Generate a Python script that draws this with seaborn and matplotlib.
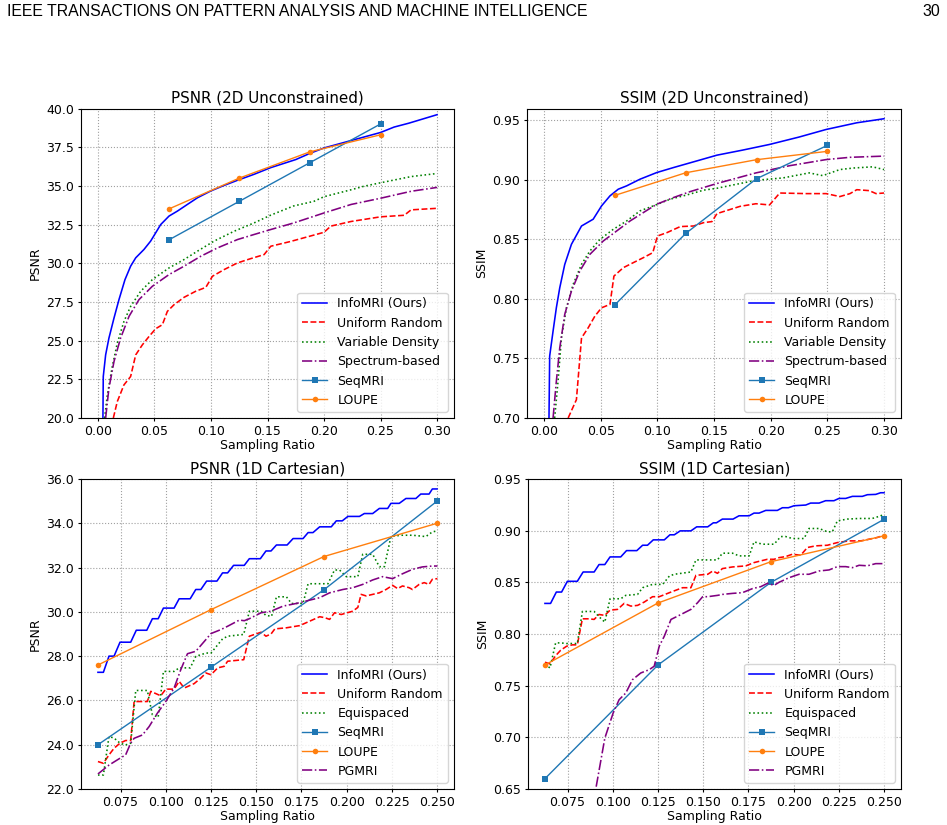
import matplotlib
matplotlib.use("Agg")
import matplotlib.pyplot as plt
from matplotlib.ticker import MultipleLocator, FormatStrFormatter
import seaborn as sns

# ---------------- DATA ----------------
# Learned baselines (shared sampling ratios)
ratios_learned = [0.0625, 0.125, 0.1875, 0.25]

# ---- PSNR (2D Unconstrained) ----
tl_info_x = [0.0044, 0.0047, 0.0068, 0.0097, 0.0142, 0.0186, 0.0239, 0.0289, 0.0334, 0.0407, 0.0466, 0.0511,
             0.0555, 0.0629, 0.0703, 0.0791, 0.088, 0.0998, 0.1116, 0.1234, 0.1382, 0.1529, 0.175, 0.1875,
             0.20, 0.225, 0.25, 0.262, 0.275, 0.30]
tl_info_y = [20.0, 22.68, 24.08, 25.16, 26.46, 27.65, 28.94, 29.81, 30.35, 30.89, 31.43, 31.97,
             32.5, 33.05, 33.37, 33.8, 34.23, 34.67, 35.03, 35.36, 35.75, 36.18, 36.7, 37.1,
             37.45, 37.95, 38.45, 38.8, 39.05, 39.6]
tl_unif_x = [0.0136, 0.0171, 0.023, 0.0289, 0.0334, 0.0393, 0.0452, 0.0511, 0.057, 0.0614, 0.0673, 0.0762,
             0.0865, 0.0954, 0.1013, 0.1116, 0.1234, 0.1352, 0.147, 0.1529, 0.170, 0.185, 0.20, 0.206,
             0.224, 0.25, 0.271, 0.277, 0.30]
tl_unif_y = [20.0, 21.06, 22.14, 22.68, 24.08, 24.73, 25.27, 25.77, 26.03, 26.89, 27.32, 27.8,
             28.19, 28.44, 29.16, 29.59, 30.02, 30.3, 30.56, 31.1, 31.4, 31.7, 32.0, 32.4,
             32.7, 33.0, 33.1, 33.45, 33.55]
tl_vd_x = [0.0059, 0.0083, 0.0127, 0.0171, 0.023, 0.0289, 0.0378, 0.0481, 0.0629, 0.0762, 0.088, 0.1027,
           0.1205, 0.1382, 0.1529, 0.173, 0.191, 0.20, 0.224, 0.235, 0.25, 0.277, 0.30]
tl_vd_y = [20.0, 21.49, 23.33, 24.84, 26.24, 27.21, 28.19, 28.94, 29.7, 30.24, 30.78, 31.43,
           32.07, 32.61, 33.11, 33.7, 34.0, 34.3, 34.75, 34.97, 35.2, 35.6, 35.8]
tl_spec_x = [0.0068, 0.0097, 0.0142, 0.02, 0.0275, 0.0363, 0.0481, 0.0629, 0.0762, 0.0909, 0.1057, 0.1234,
             0.1382, 0.1529, 0.173, 0.20, 0.224, 0.25, 0.277, 0.30]
tl_spec_y = [20.0, 21.92, 23.65, 25.16, 26.57, 27.65, 28.51, 29.27, 29.81, 30.45, 30.99, 31.53,
             31.86, 32.18, 32.6, 33.25, 33.8, 34.2, 34.65, 34.9]
tl_seq_y = [31.5, 34.0, 36.5, 39.0]
tl_loupe_y = [33.5, 35.5, 37.2, 38.3]

# ---- SSIM (2D Unconstrained) ----
tr_info_x = [0.0044, 0.005, 0.008, 0.0109, 0.0139, 0.0183, 0.0242, 0.0331, 0.0434, 0.0508, 0.0582, 0.0655,
             0.0729, 0.0847, 0.0995, 0.1143, 0.132, 0.1526, 0.175, 0.199, 0.225, 0.249, 0.276, 0.30]
tr_info_y = [0.70, 0.752, 0.773, 0.7926, 0.8094, 0.829, 0.8459, 0.8613, 0.867, 0.8782, 0.8866, 0.8922,
             0.895, 0.9006, 0.9062, 0.9104, 0.9152, 0.9208, 0.925, 0.9298, 0.936, 0.9424, 0.948, 0.9514]
tr_unif_x = [0.0213, 0.0286, 0.0331, 0.039, 0.0449, 0.0508, 0.0582, 0.0617, 0.07, 0.0788, 0.0877, 0.096,
             0.1001, 0.1084, 0.1202, 0.132, 0.1408, 0.1482, 0.1526, 0.173, 0.187, 0.199, 0.208, 0.2315,
             0.249, 0.261, 0.27, 0.276, 0.287, 0.293, 0.30]
tr_unif_y = [0.70, 0.7154, 0.7673, 0.7758, 0.7856, 0.7926, 0.7954, 0.8192, 0.8263, 0.8305, 0.8347, 0.8389,
             0.8529, 0.8557, 0.8608, 0.8613, 0.8641, 0.865, 0.8717, 0.8778, 0.880, 0.879, 0.889, 0.8885,
             0.8885, 0.886, 0.8885, 0.8918, 0.891, 0.8885, 0.889]
tr_vd_x = [0.0094, 0.0124, 0.0154, 0.0198, 0.0257, 0.0331, 0.0405, 0.0493, 0.0611, 0.0729, 0.0847, 0.0965,
           0.1113, 0.1261, 0.1408, 0.1526, 0.187, 0.211, 0.234, 0.246, 0.261, 0.273, 0.29, 0.30]
tr_vd_y = [0.70, 0.7309, 0.7673, 0.7926, 0.8122, 0.8291, 0.8403, 0.85, 0.8585, 0.8655, 0.874, 0.8782,
           0.8838, 0.8874, 0.8914, 0.893, 0.8997, 0.9017, 0.9059, 0.9036, 0.9087, 0.910, 0.911, 0.9087]
tr_spec_x = [0.008, 0.0109, 0.0139, 0.0183, 0.0242, 0.0316, 0.0405, 0.0523, 0.0641, 0.0759, 0.0877, 0.0995,
             0.1143, 0.129, 0.1408, 0.1526, 0.187, 0.217, 0.249, 0.27, 0.30]
tr_spec_y = [0.70, 0.7309, 0.7589, 0.787, 0.8066, 0.8235, 0.8375, 0.8487, 0.8571, 0.8655, 0.8726, 0.8796,
             0.8852, 0.8902, 0.8936, 0.897, 0.9059, 0.912, 0.9171, 0.919, 0.92]
tr_seq_y = [0.795, 0.855, 0.901, 0.929]
tr_loupe_y = [0.887, 0.906, 0.917, 0.924]

# ---- PSNR (1D Cartesian) ----
bl_info_x = [0.0625, 0.0655, 0.0686, 0.0714, 0.0747, 0.0806, 0.0837, 0.0895, 0.0926, 0.0958, 0.0987, 0.1046,
             0.1074, 0.1135, 0.1166, 0.1194, 0.1226, 0.1283, 0.1314, 0.1342, 0.1375, 0.1434, 0.1462, 0.1523,
             0.1554, 0.1582, 0.1612, 0.1671, 0.1704, 0.1759, 0.1787, 0.1814, 0.1851, 0.1915, 0.1943, 0.1976,
             0.2007, 0.2071, 0.2098, 0.2144, 0.2181, 0.2227, 0.2245, 0.2291, 0.2328, 0.2383, 0.2410, 0.2456,
             0.2474, 0.2500]
bl_info_y = [27.27, 27.27, 28.0, 28.0, 28.63, 28.63, 29.17, 29.17, 29.69, 29.69, 30.17, 30.17,
             30.59, 30.59, 31.01, 31.01, 31.39, 31.39, 31.76, 31.76, 32.1, 32.1, 32.4, 32.4,
             32.75, 32.75, 33.02, 33.02, 33.31, 33.31, 33.58, 33.58, 33.84, 33.84, 34.11, 34.11,
             34.31, 34.31, 34.44, 34.44, 34.67, 34.67, 34.9, 34.9, 35.12, 35.12, 35.32, 35.32,
             35.55, 35.55]
bl_unif_x = [0.0625, 0.0655, 0.0686, 0.0714, 0.0747, 0.0778, 0.0806, 0.0825, 0.0898, 0.0917, 0.0972, 0.1,
             0.1046, 0.1074, 0.1102, 0.1157, 0.1194, 0.1222, 0.125, 0.1287, 0.1323, 0.1342, 0.1431, 0.1462,
             0.1527, 0.1554, 0.1582, 0.1603, 0.1667, 0.1741, 0.1796, 0.1851, 0.1878, 0.1906, 0.1933, 0.197,
             0.2034, 0.2062, 0.208, 0.2108, 0.2181, 0.2218, 0.2254, 0.2282, 0.2309, 0.2346, 0.2364, 0.2401,
             0.2429, 0.2456, 0.2474, 0.2502]
bl_unif_y = [23.24, 23.16, 23.54, 23.84, 24.07, 24.19, 24.19, 25.95, 25.95, 26.41, 26.21, 26.51,
             26.51, 26.86, 26.56, 26.76, 27.01, 27.24, 27.16, 27.47, 27.54, 27.77, 27.84, 28.9,
             29.08, 28.9, 29.0, 29.23, 29.28, 29.38, 29.58, 29.78, 29.74, 29.66, 29.96, 29.88,
             30.03, 30.2, 30.79, 30.72, 30.86, 31.01, 31.2, 31.05, 31.17, 31.09, 31.01, 31.24,
             31.32, 31.24, 31.47, 31.5]
bl_equi_x = [0.0625, 0.0655, 0.0686, 0.0714, 0.0747, 0.0778, 0.0806, 0.0834, 0.0898, 0.0926, 0.0958, 0.0987,
             0.1046, 0.1074, 0.1135, 0.1166, 0.1222, 0.125, 0.1314, 0.1342, 0.1431, 0.1462, 0.1527, 0.1554,
             0.1585, 0.1612, 0.1667, 0.1695, 0.1759, 0.1787, 0.1897, 0.1933, 0.1961, 0.1998, 0.2062, 0.2089,
             0.2144, 0.2181, 0.2209, 0.2245, 0.2300, 0.2364, 0.2438, 0.2474, 0.2502]
bl_equi_y = [22.63, 22.63, 24.37, 24.3, 24.07, 23.99, 24.07, 26.45, 26.45, 25.35, 25.24, 27.31,
             27.31, 27.47, 27.47, 27.99, 28.14, 28.14, 28.78, 28.9, 28.98, 30.03, 30.03, 29.84,
             29.8, 30.68, 30.68, 30.38, 30.38, 31.27, 31.27, 31.89, 31.89, 31.59, 31.59, 32.6,
             32.6, 32.04, 32.04, 33.4, 33.46, 33.46, 33.4, 33.61, 33.66]
bl_pg_x = [0.0625, 0.0686, 0.0747, 0.0778, 0.0806, 0.0825, 0.0871, 0.0908, 0.0954, 0.1, 0.1046, 0.1083,
           0.112, 0.1166, 0.1222, 0.125, 0.1305, 0.1342, 0.1407, 0.1434, 0.1462, 0.1527, 0.1582, 0.1649,
           0.1722, 0.1796, 0.1851, 0.1906, 0.1979, 0.2034, 0.2089, 0.2144, 0.2199, 0.2254, 0.2309, 0.2364,
           0.2419, 0.2474, 0.2502]
bl_pg_y = [22.68, 23.08, 23.39, 23.54, 24.07, 24.29, 24.44, 24.82, 25.43, 25.95, 26.56, 27.39,
           28.11, 28.22, 28.75, 29.02, 29.2, 29.35, 29.63, 29.6, 29.69, 29.96, 30.03, 30.26,
           30.38, 30.53, 30.64, 30.86, 31.01, 31.09, 31.24, 31.44, 31.59, 31.5, 31.72, 31.92,
           32.03, 32.07, 32.07]
bl_seq_y = [24.0, 27.5, 31.0, 35.0]
bl_loupe_y = [27.6, 30.1, 32.5, 34.0]

# ---- SSIM (1D Cartesian) ----
br_info_x = [0.0625, 0.0656, 0.0688, 0.0717, 0.0749, 0.0804, 0.0836, 0.0897, 0.0924, 0.0956, 0.0985, 0.1044,
             0.1076, 0.1133, 0.1165, 0.1192, 0.1224, 0.1285, 0.1316, 0.1340, 0.1373, 0.1432, 0.1464, 0.1525,
             0.1556, 0.1573, 0.1606, 0.1665, 0.1698, 0.1754, 0.1781, 0.1809, 0.1846, 0.1910, 0.1938, 0.1971,
             0.2002, 0.2067, 0.2094, 0.2141, 0.2177, 0.2223, 0.2251, 0.2288, 0.2325, 0.2380, 0.2408, 0.2454,
             0.2481, 0.2500]
br_info_y = [0.8296, 0.8296, 0.8406, 0.8406, 0.851, 0.851, 0.860, 0.860, 0.8672, 0.8672, 0.8746, 0.8746,
             0.8807, 0.8807, 0.8859, 0.8859, 0.8911, 0.8911, 0.896, 0.896, 0.8998, 0.8998, 0.9037, 0.9037,
             0.9076, 0.9076, 0.9112, 0.9112, 0.9144, 0.9144, 0.917, 0.917, 0.9196, 0.9196, 0.9222, 0.9222,
             0.9241, 0.9248, 0.9267, 0.9267, 0.929, 0.929, 0.9312, 0.9312, 0.9332, 0.9332, 0.9348, 0.9351,
             0.9367, 0.9367]
br_unif_x = [0.0625, 0.0653, 0.0684, 0.0712, 0.0745, 0.0777, 0.0804, 0.0832, 0.0869, 0.0897, 0.0924, 0.0956,
             0.0985, 0.1026, 0.1063, 0.1100, 0.1137, 0.1174, 0.1220, 0.1257, 0.1322, 0.1386, 0.1432, 0.1460,
             0.1525, 0.1553, 0.1579, 0.1606, 0.1662, 0.1735, 0.1781, 0.1818, 0.1855, 0.1892, 0.1919, 0.1956,
             0.1993, 0.2039, 0.2076, 0.2122, 0.2187, 0.2242, 0.2306, 0.2371, 0.2417, 0.2463, 0.25]
br_unif_y = [0.7727, 0.771, 0.779, 0.7843, 0.7882, 0.7895, 0.7895, 0.8147, 0.8147, 0.8141, 0.8189, 0.818,
             0.8231, 0.8238, 0.8296, 0.827, 0.8277, 0.8309, 0.8361, 0.8361, 0.8406, 0.8448, 0.8448, 0.8568,
             0.8578, 0.861, 0.8587, 0.8633, 0.8649, 0.8659, 0.8691, 0.8707, 0.8723, 0.8723, 0.8739, 0.8749,
             0.8772, 0.8762, 0.8837, 0.8853, 0.8859, 0.8885, 0.8901, 0.8901, 0.8917, 0.8934, 0.8956]
br_equi_x = [0.0625, 0.0653, 0.0684, 0.0712, 0.0745, 0.0777, 0.0804, 0.0832, 0.0897, 0.0924, 0.0956, 0.0985,
             0.1044, 0.1072, 0.1137, 0.1165, 0.1220, 0.1276, 0.1313, 0.1340, 0.1432, 0.1460, 0.1553, 0.1579,
             0.1606, 0.1662, 0.1698, 0.1754, 0.1781, 0.1827, 0.1892, 0.1929, 0.1956, 0.1993, 0.2058, 0.2085,
             0.2141, 0.2187, 0.2214, 0.2242, 0.2297, 0.2362, 0.2435, 0.2472, 0.25]
br_equi_y = [0.7704, 0.7672, 0.7914, 0.7914, 0.7908, 0.7908, 0.7908, 0.8218, 0.8218, 0.8167, 0.8115, 0.8341,
             0.8341, 0.8374, 0.8383, 0.8448, 0.848, 0.848, 0.8561, 0.8578, 0.86, 0.8717, 0.8717, 0.8717,
             0.8782, 0.8782, 0.8756, 0.8756, 0.8892, 0.8869, 0.8869, 0.8943, 0.8943, 0.8924, 0.8924, 0.9021,
             0.9021, 0.8989, 0.8989, 0.9095, 0.9112, 0.9118, 0.9118, 0.9138, 0.9157]
br_pg_x = [0.0875, 0.0906, 0.0956, 0.1002, 0.1035, 0.1072, 0.1109, 0.1155, 0.1202, 0.1229, 0.1257, 0.1285,
           0.1322, 0.1359, 0.1396, 0.1432, 0.1469, 0.1497, 0.1525, 0.1580, 0.1606, 0.1662, 0.1717, 0.1772,
           0.1818, 0.1855, 0.1892, 0.1919, 0.1975, 0.2030, 0.2085, 0.2141, 0.2196, 0.2242, 0.2288, 0.2325,
           0.2362, 0.2408, 0.2454, 0.25]
br_pg_y = [0.62, 0.65, 0.6992, 0.7235, 0.7364, 0.7429, 0.7558, 0.7623, 0.7655, 0.7688, 0.7882, 0.7979,
           0.8141, 0.8173, 0.8206, 0.8238, 0.8303, 0.8361, 0.8361, 0.8374, 0.8383, 0.8393, 0.84, 0.8439,
           0.8458, 0.849, 0.8471, 0.85, 0.8545, 0.8578, 0.8578, 0.861, 0.862, 0.8652, 0.8652, 0.8642,
           0.8665, 0.866, 0.8681, 0.8681]
br_seq_y = [0.66, 0.77, 0.85, 0.911]
br_loupe_y = [0.77, 0.83, 0.87, 0.895]

# ---------------- PLOT ----------------
plt.rcParams['font.family'] = ['DejaVu Sans']
plt.rcParams['font.size'] = 9

fig = plt.figure(figsize=(9.47, 8.25), dpi=100)
fig.text(7 / 947, 1 - 12 / 825, "IEEE TRANSACTIONS ON PATTERN ANALYSIS AND MACHINE INTELLIGENCE",
         ha='left', va='center', fontsize=11.4, family=['Liberation Sans', 'DejaVu Sans'])
fig.text(940 / 947, 1 - 12 / 825, "30", ha='right', va='center', fontsize=11.4,
         family=['Liberation Sans', 'DejaVu Sans'])

W, H = 947.0, 825.0
def add_ax(l, r, t, b):
    return fig.add_axes([l / W, 1 - b / H, (r - l) / W, (b - t) / H])

ax_tl = add_ax(81, 454, 108.5, 418)
ax_tr = add_ax(527, 901, 108.5, 418)
ax_bl = add_ax(81, 454, 479, 789)
ax_br = add_ax(528, 901, 479, 789)

LW = 1.15
def main_line(ax, x, y, color, ls, label):
    sns.lineplot(x=x, y=y, ax=ax, color=color, linestyle=ls, linewidth=LW, label=label,
                 sort=False, estimator=None)

def learned_line(ax, y, color, marker, label):
    sns.lineplot(x=ratios_learned, y=y, ax=ax, color=color, marker=marker, markersize=4,
                 markeredgewidth=0, linewidth=1.0, label=label, sort=False, estimator=None)

# Top-left
main_line(ax_tl, tl_info_x, tl_info_y, 'blue', '-', 'InfoMRI (Ours)')
main_line(ax_tl, tl_unif_x, tl_unif_y, 'red', '--', 'Uniform Random')
main_line(ax_tl, tl_vd_x, tl_vd_y, 'green', ':', 'Variable Density')
main_line(ax_tl, tl_spec_x, tl_spec_y, 'purple', '-.', 'Spectrum-based')
learned_line(ax_tl, tl_seq_y, '#1f77b4', 's', 'SeqMRI')
learned_line(ax_tl, tl_loupe_y, '#ff7f0e', 'o', 'LOUPE')

# Top-right
main_line(ax_tr, tr_info_x, tr_info_y, 'blue', '-', 'InfoMRI (Ours)')
main_line(ax_tr, tr_unif_x, tr_unif_y, 'red', '--', 'Uniform Random')
main_line(ax_tr, tr_vd_x, tr_vd_y, 'green', ':', 'Variable Density')
main_line(ax_tr, tr_spec_x, tr_spec_y, 'purple', '-.', 'Spectrum-based')
learned_line(ax_tr, tr_seq_y, '#1f77b4', 's', 'SeqMRI')
learned_line(ax_tr, tr_loupe_y, '#ff7f0e', 'o', 'LOUPE')

# Bottom-left
main_line(ax_bl, bl_info_x, bl_info_y, 'blue', '-', 'InfoMRI (Ours)')
main_line(ax_bl, bl_unif_x, bl_unif_y, 'red', '--', 'Uniform Random')
main_line(ax_bl, bl_equi_x, bl_equi_y, 'green', ':', 'Equispaced')
learned_line(ax_bl, bl_seq_y, '#1f77b4', 's', 'SeqMRI')
learned_line(ax_bl, bl_loupe_y, '#ff7f0e', 'o', 'LOUPE')
main_line(ax_bl, bl_pg_x, bl_pg_y, 'purple', '-.', 'PGMRI')

# Bottom-right
main_line(ax_br, br_info_x, br_info_y, 'blue', '-', 'InfoMRI (Ours)')
main_line(ax_br, br_unif_x, br_unif_y, 'red', '--', 'Uniform Random')
main_line(ax_br, br_equi_x, br_equi_y, 'green', ':', 'Equispaced')
learned_line(ax_br, br_seq_y, '#1f77b4', 's', 'SeqMRI')
learned_line(ax_br, br_loupe_y, '#ff7f0e', 'o', 'LOUPE')
main_line(ax_br, br_pg_x, br_pg_y, 'purple', '-.', 'PGMRI')

# Axes styling
for ax, title, ylab in [(ax_tl, 'PSNR (2D Unconstrained)', 'PSNR'),
                        (ax_tr, 'SSIM (2D Unconstrained)', 'SSIM'),
                        (ax_bl, 'PSNR (1D Cartesian)', 'PSNR'),
                        (ax_br, 'SSIM (1D Cartesian)', 'SSIM')]:
    ax.set_title(title, fontsize=10.9, pad=4)
    ax.set_xlabel('Sampling Ratio', fontsize=9, labelpad=1)
    ax.set_ylabel(ylab, fontsize=9, labelpad=3)
    ax.grid(True, linestyle=':', color='#a0a0a0', linewidth=0.8)
    ax.tick_params(labelsize=9, length=2.5, pad=2.5)
    ax.legend(loc='lower right', fontsize=9)

ax_tl.set_xlim(-0.015, 0.315)
ax_tl.set_ylim(20, 40)
ax_tl.xaxis.set_major_locator(MultipleLocator(0.05))
ax_tl.yaxis.set_major_locator(MultipleLocator(2.5))
ax_tl.xaxis.set_major_formatter(FormatStrFormatter('%.2f'))
ax_tl.yaxis.set_major_formatter(FormatStrFormatter('%.1f'))

ax_tr.set_xlim(-0.015, 0.315)
ax_tr.set_ylim(0.70, 0.96)
ax_tr.xaxis.set_major_locator(MultipleLocator(0.05))
ax_tr.yaxis.set_major_locator(MultipleLocator(0.05))
ax_tr.xaxis.set_major_formatter(FormatStrFormatter('%.2f'))
ax_tr.yaxis.set_major_formatter(FormatStrFormatter('%.2f'))

for ax in (ax_bl, ax_br):
    ax.set_xlim(0.0625 - 0.009375, 0.25 + 0.009375)
    ax.xaxis.set_major_locator(MultipleLocator(0.025))
    ax.xaxis.set_major_formatter(FormatStrFormatter('%.3f'))

ax_bl.set_ylim(22, 36)
ax_bl.yaxis.set_major_locator(MultipleLocator(2))
ax_bl.yaxis.set_major_formatter(FormatStrFormatter('%.1f'))
ax_br.set_ylim(0.65, 0.95)
ax_br.yaxis.set_major_locator(MultipleLocator(0.05))
ax_br.yaxis.set_major_formatter(FormatStrFormatter('%.2f'))

fig.savefig('out.png', dpi=100)
